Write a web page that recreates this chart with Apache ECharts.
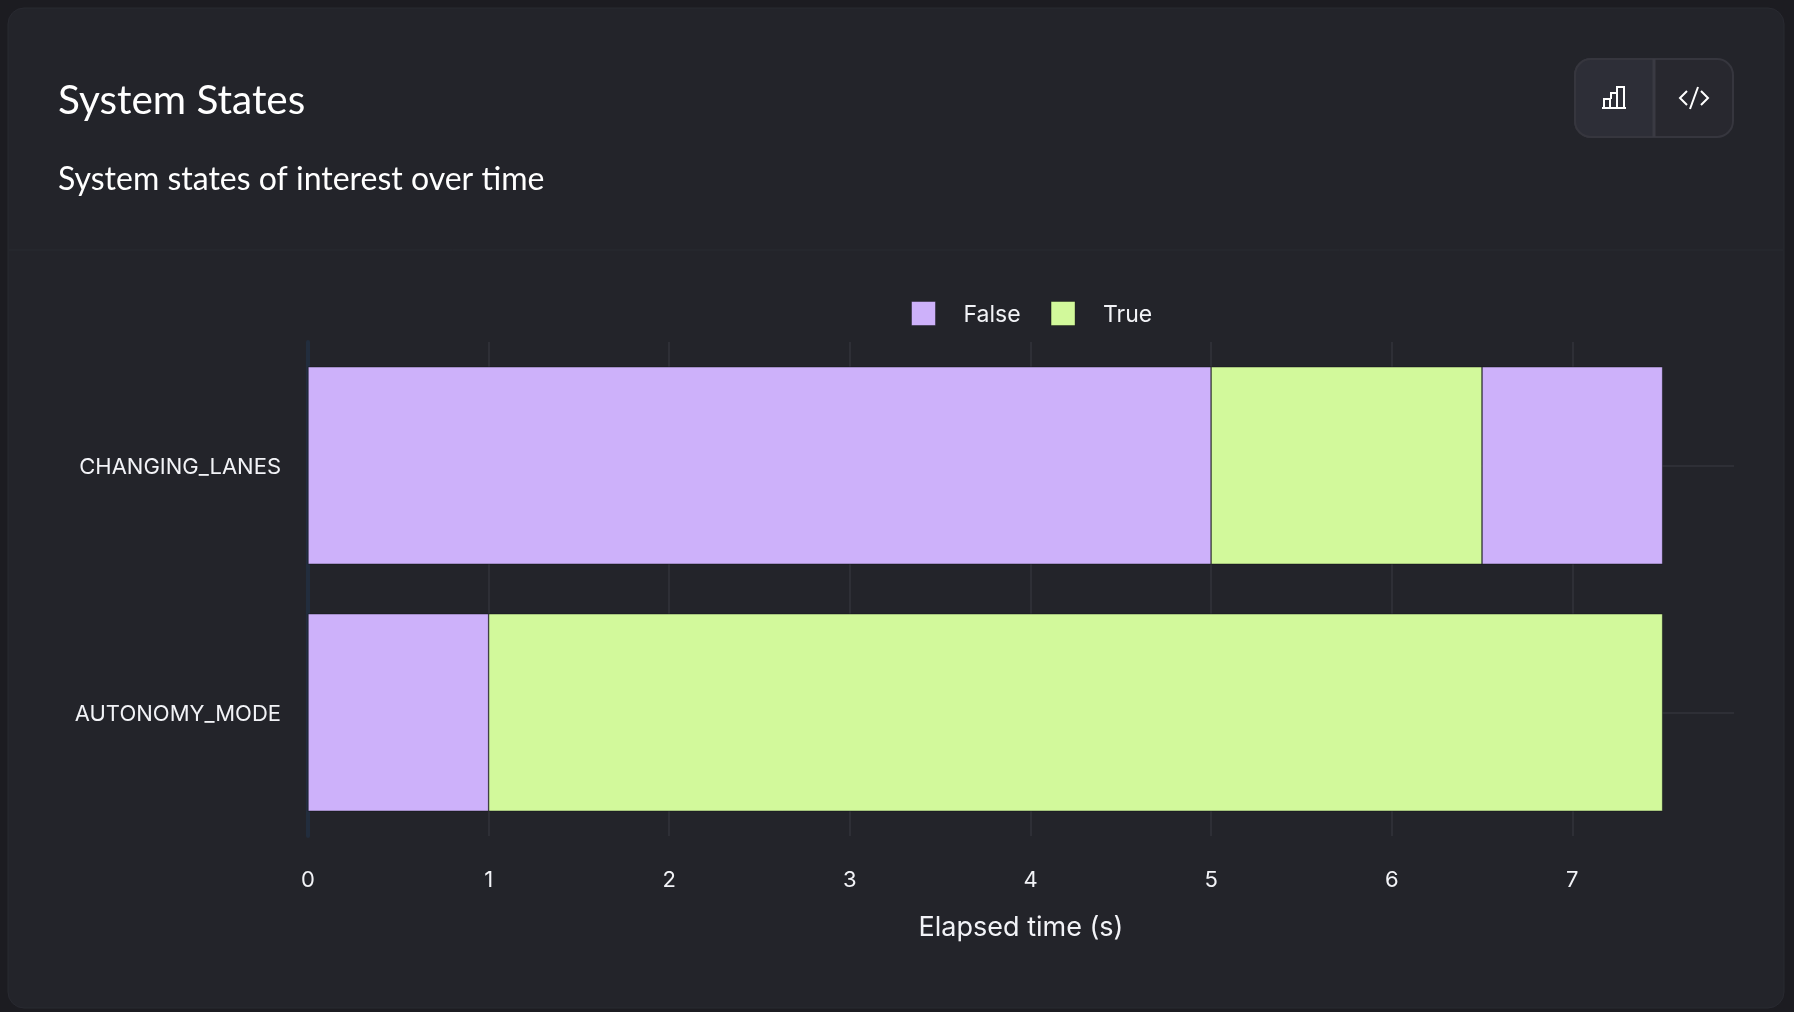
<!DOCTYPE html>
<html>
<head>
<meta charset="utf-8">
<title>System States</title>
<script src="https://cdn.jsdelivr.net/npm/echarts@6/dist/echarts.min.js"></script>
<style>
html, body { margin: 0; padding: 0; background: #1c1c21; overflow: hidden; }
#chart_01 { width: 1794px; height: 1012px; }
</style>
</head>
<body>
<div id="chart_01"></div>
<script>
var categories = ['AUTONOMY_MODE', 'CHANGING_LANES'];
// seconds spent in each consecutive state, one entry per category
var firstFalse = [1, 5];
var firstTrue = [6.5, 1.5];
var lastFalse = [null, 1];
var xTicksMax = 7.895;

var labelColor = '#f2f3f7';
var gridColor = '#2e2f36';
var falseColor = '#cdb1fa';
var trueColor = '#d2f99b';
var labelFont = 'Inter';
var titleFont = 'Lato';

function stateBar(name, values, color) {
    return {
        name: name,
        type: 'bar',
        stack: 'state',
        barWidth: '80%',
        data: values,
        itemStyle: {
            color: color,
            borderColor: '#111216',
            // echarts insets the border, so two neighbours add up to 1px
            borderWidth: 0.5
        }
    };
}

var dom = document.getElementById('chart_01');
var chart1 = echarts.init(dom);
var option = {
    animation: false,
    backgroundColor: '#1c1c21',
    title: [
        {
            text: 'System States',
            left: 53,
            top: 75,
            textStyle: { color: '#ffffff', fontFamily: titleFont, fontSize: 40.5, fontWeight: 400 }
        },
        {
            text: 'System states of interest over time',
            left: 53,
            top: 159,
            textStyle: { color: '#ffffff', fontFamily: titleFont, fontSize: 32, fontWeight: 400 }
        }
    ],
    legend: {
        left: 906,
        top: 296,
        itemWidth: 24,
        itemHeight: 24,
        itemGap: 30,
        icon: 'rect',
        data: ['False', 'True'],
        selectedMode: false,
        itemStyle: { borderColor: 'rgba(0,0,0,0.35)', borderWidth: 1 },
        formatter: '{a|{name}}',
        textStyle: {
            rich: {
                a: { color: labelColor, fontFamily: labelFont, fontSize: 23, padding: [3, 0, 0, 23] }
            }
        }
    },
    grid: {
        left: 308,
        top: 342,
        right: 60,
        bottom: 176,
        containLabel: false
    },
    xAxis: {
        type: 'value',
        min: 0,
        max: xTicksMax,
        interval: 1,
        name: 'Elapsed time (s)',
        nameLocation: 'middle',
        nameGap: 78,
        nameTextStyle: { color: labelColor, fontFamily: labelFont, fontSize: 27 },
        axisLine: { show: false },
        axisTick: { show: false },
        axisLabel: {
            color: labelColor,
            fontFamily: labelFont,
            fontSize: 22,
            margin: 33,
            showMaxLabel: false
        },
        splitLine: {
            showMaxLine: false,
            lineStyle: { color: gridColor, width: 2 }
        }
    },
    yAxis: {
        type: 'category',
        data: categories,
        axisLine: { show: true, lineStyle: { color: '#222d3d', width: 4 } },
        axisTick: { show: false },
        axisLabel: {
            margin: 27,
            formatter: '{a|{value}}',
            rich: {
                a: { color: labelColor, fontFamily: labelFont, fontSize: 22, padding: [4, 0, 0, 0] }
            }
        },
        splitLine: {
            show: true,
            alignWithLabel: true,
            lineStyle: { color: gridColor, width: 2 }
        }
    },
    series: [
        stateBar('False', firstFalse, falseColor),
        stateBar('True', firstTrue, trueColor),
        stateBar('False', lastFalse, falseColor)
    ],
    graphic: [
        // card
        { type: 'rect', z: -10, shape: { x: 8, y: 8, width: 1776, height: 1000, r: 16 },
          style: { fill: '#23242a', stroke: '#292a31', lineWidth: 1 } },
        { type: 'line', z: -9, shape: { x1: 9, y1: 250, x2: 1783, y2: 250 },
          style: { stroke: '#292a30', lineWidth: 1 } },
        // button group
        { type: 'rect', z: 1, shape: { x: 1575, y: 59, width: 158, height: 78, r: 16 },
          style: { fill: '#28282f', stroke: '#36363e', lineWidth: 2 } },
        { type: 'rect', z: 2, shape: { x: 1575, y: 59, width: 79, height: 78, r: [16, 0, 0, 16] },
          style: { fill: '#2d2e37', stroke: '#36363e', lineWidth: 2 } },
        { type: 'line', z: 3, shape: { x1: 1654, y1: 59, x2: 1654, y2: 137 },
          style: { stroke: '#3a3a43', lineWidth: 3 } },
        // bar chart icon
        { type: 'polyline', z: 4, shape: { points: [[1602, 108], [1626, 108]] },
          style: { stroke: '#ffffff', lineWidth: 2, fill: null } },
        { type: 'polyline', z: 4, shape: { points: [[1604, 108], [1604, 99], [1610, 99], [1610, 108]] },
          style: { stroke: '#ffffff', lineWidth: 2, fill: null } },
        { type: 'polyline', z: 4, shape: { points: [[1611, 99], [1611, 93], [1617, 93], [1617, 108]] },
          style: { stroke: '#ffffff', lineWidth: 2, fill: null } },
        { type: 'polyline', z: 4, shape: { points: [[1617, 93], [1617, 87], [1624, 87], [1624, 108]] },
          style: { stroke: '#ffffff', lineWidth: 2, fill: null } },
        // code icon
        { type: 'polyline', z: 4, shape: { points: [[1687, 91], [1680, 98], [1687, 105]] },
          style: { stroke: '#ffffff', lineWidth: 2, fill: null } },
        { type: 'polyline', z: 4, shape: { points: [[1701, 91], [1708, 98], [1701, 105]] },
          style: { stroke: '#ffffff', lineWidth: 2, fill: null } },
        { type: 'line', z: 4, shape: { x1: 1698, y1: 87, x2: 1690, y2: 109 },
          style: { stroke: '#ffffff', lineWidth: 2 } }
    ]
};
chart1.setOption(option, true);
</script>
</body>
</html>
